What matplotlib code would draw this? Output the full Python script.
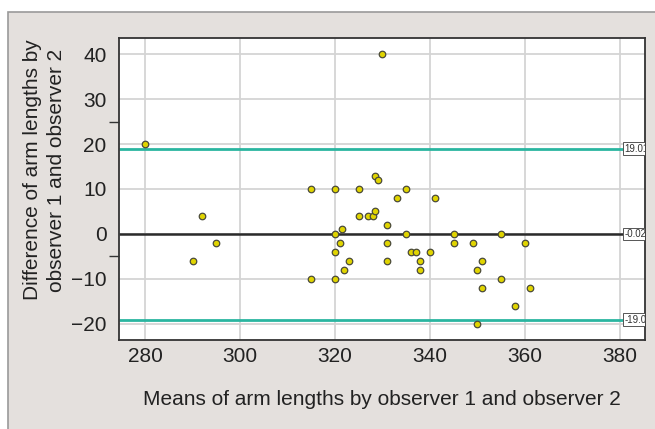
import matplotlib.pyplot as plt
from matplotlib.patches import Rectangle

plt.rcParams["font.family"] = ["Liberation Sans", "DejaVu Sans"]

# --- Data ---
mean_len = [280, 290, 292, 295, 315, 315, 320, 320, 320, 320, 321, 321.5, 322, 323,
            325, 325, 327, 328, 328.5, 328.5, 329, 330, 331, 331, 331, 333, 335, 335,
            336, 337, 338, 338, 340, 341, 345, 345, 349, 350, 350, 351, 351, 355, 355,
            358, 360, 361]
diff_len = [20, -6, 4, -2, 10, -10, 10, 0, -4, -10, -2, 1, -8, -6,
            10, 4, 4, 4, 13, 5, 12, 40, 2, -2, -6, 8, 10, 0,
            -4, -4, -6, -8, -4, 8, 0, -2, -2, -8, -20, -6, -12, 0, -10,
            -16, -2, -12]
mean_diff = -0.02
upper_loa = 19.01
lower_loa = -19.04

xticks = [280, 300, 320, 340, 360, 380]
yticks = [-20, -10, 0, 10, 20, 30, 40]
ytick_marks = [-20, -5, 10, 25, 40]

fig = plt.figure(figsize=(6.55, 4.29), dpi=100)
fig.patch.set_facecolor("white")
frame = Rectangle((8 / 655, -0.01), 1, 1 - 12 / 429 + 0.01,
                  transform=fig.transFigure, facecolor="#e4e0dd",
                  edgecolor="#9a9a9a", linewidth=1.2, zorder=-10)
fig.add_artist(frame)

ax = fig.add_axes([119 / 655, 1 - 340 / 429, (645 - 119) / 655, (340 - 38) / 429])
ax.set_zorder(1)
ax.set_facecolor("white")
ax.set_xlim(274.5, 385.3)
ax.set_ylim(-23.6, 43.6)

ax.set_xticks(xticks)
ax.set_yticks(yticks)
ax.set_yticks(ytick_marks, minor=True)
ax.tick_params(axis="y", which="major", length=0, pad=9, labelsize=15, colors="#222")
ax.tick_params(axis="y", which="minor", length=7, width=1, color="#333")
ax.tick_params(axis="x", length=0, pad=5, labelsize=15, colors="#222")
ax.grid(True, which="major", color="#d4d4d4", linewidth=1.3, zorder=0)
for s in ax.spines.values():
    s.set_color("#333")
    s.set_linewidth(1.3)

xend = 381
ax.hlines([upper_loa, lower_loa], 274.5, xend, color="#2ab5a0", linewidth=2, zorder=2)
ax.hlines(mean_diff, 274.5, xend, color="#2b2b2b", linewidth=1.8, zorder=2)

for val, lab in [(upper_loa, "19.01"), (mean_diff, "-0.02"), (lower_loa, "-19.04")]:
    ax.text(xend, val, lab, fontsize=7, va="center", ha="left", color="#333",
            bbox=dict(boxstyle="square,pad=0.15", facecolor="white",
                      edgecolor="#555", linewidth=0.7),
            clip_on=True, zorder=4)

ax.scatter(mean_len, diff_len, s=22, color="#e0d400", edgecolors="#4a4a3a",
           linewidths=0.9, zorder=3)

ax.set_xlabel("Means of arm lengths by observer 1 and observer 2",
              fontsize=15, color="#222", labelpad=17)
ax.set_ylabel("Difference of arm lengths by\nobserver 1 and observer 2",
              fontsize=15, color="#222", linespacing=1.3)
ax.yaxis.set_label_coords(-0.101, 0.563)

fig.savefig("out.png", dpi=100)
